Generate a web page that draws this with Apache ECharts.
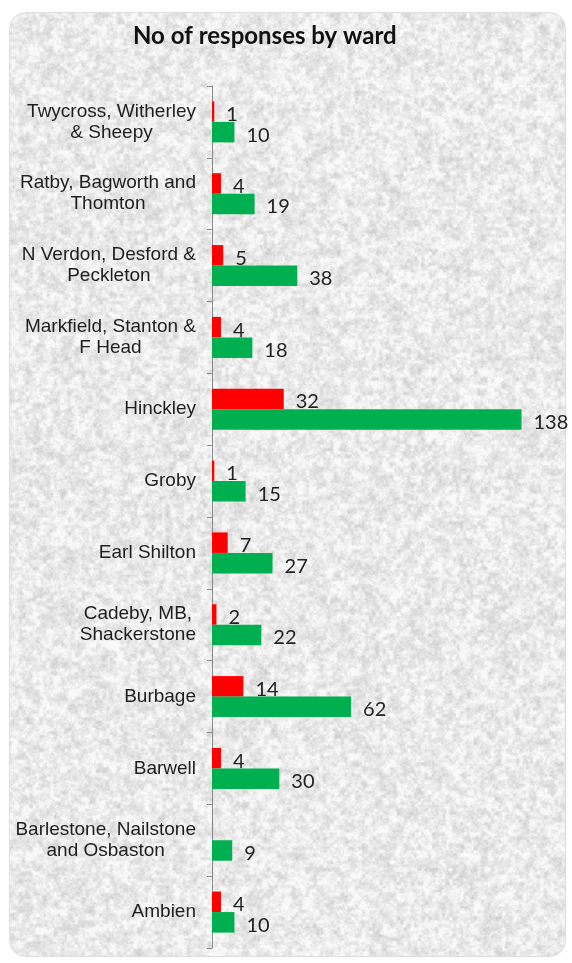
<!DOCTYPE html>
<html>
<head>
<meta charset="utf-8">
<script src="https://cdn.jsdelivr.net/npm/echarts@6/dist/echarts.min.js"></script>
<style>
  html, body { margin: 0; padding: 0; background: #ffffff; }
  #chart { width: 572px; height: 963px; }
</style>
</head>
<body>
<div id="chart"></div>
<script>
// Wards, listed top to bottom
const wards = [
  'Twycross, Witherley\n& Sheepy',
  'Ratby, Bagworth and\nThomton',
  'N Verdon, Desford &\nPeckleton',
  'Markfield, Stanton &\nF Head',
  'Hinckley',
  'Groby',
  'Earl Shilton',
  'Cadeby, MB,\nShackerstone',
  'Burbage',
  'Barwell',
  'Barlestone, Nailstone\nand Osbaston',
  'Ambien'
];
// Red series (upper bar in each ward)
const redValues = [1, 4, 5, 4, 32, 1, 7, 2, 14, 4, null, 4];
// Green series (lower bar in each ward)
const greenValues = [10, 19, 38, 18, 138, 15, 27, 22, 62, 30, 9, 10];

// Granite-like panel fill, built from a deterministic hash-based value noise
function makeGranite(w, h) {
  const c = document.createElement('canvas');
  c.width = w; c.height = h;
  const ctx = c.getContext('2d');
  const img = ctx.createImageData(w, h);
  function hash(x, y) {
    const s = Math.sin(x * 127.1 + y * 311.7) * 43758.5453;
    return s - Math.floor(s);
  }
  function smooth(t) { return t * t * (3 - 2 * t); }
  function noise(x, y) {
    const xi = Math.floor(x), yi = Math.floor(y);
    const xf = smooth(x - xi), yf = smooth(y - yi);
    const a = hash(xi, yi), b = hash(xi + 1, yi);
    const c2 = hash(xi, yi + 1), d = hash(xi + 1, yi + 1);
    return (a + (b - a) * xf) * (1 - yf) + (c2 + (d - c2) * xf) * yf;
  }
  const octaves = [[7, 0.3], [3.5, 0.35], [1.8, 0.23], [0.9, 0.12]];
  for (let y = 0; y < h; y++) {
    for (let x = 0; x < w; x++) {
      let v = 0;
      for (let k = 0; k < octaves.length; k++) {
        const s = octaves[k][0];
        v += noise(x / s + k * 17.3, y / s + k * 31.7) * octaves[k][1];
      }
      let g = 234 + (v - 0.5) * 80;
      if (g < 200) g = 200;
      if (g > 249) g = 249;
      const i = (y * w + x) * 4;
      img.data[i] = g; img.data[i + 1] = g; img.data[i + 2] = g; img.data[i + 3] = 255;
    }
  }
  ctx.putImageData(img, 0, 0);
  return c;
}

const labelFont = '"Liberation Sans", Arial, sans-serif';
const valueFont = 'Lato, "Open Sans", sans-serif';

const chart = echarts.init(document.getElementById('chart'), null, { renderer: 'canvas' });

chart.setOption({
  backgroundColor: '#ffffff',
  animation: false,
  graphic: [{
    type: 'rect',
    z: -10,
    shape: { x: 9.5, y: 12.5, width: 556, height: 944, r: 16 },
    style: {
      fill: { image: makeGranite(572, 963), repeat: 'no-repeat' },
      stroke: '#dedede',
      lineWidth: 1
    }
  }],
  title: {
    text: 'No of responses by ward',
    left: 128,
    top: 19,
    textStyle: {
      fontFamily: valueFont,
      fontSize: 24,
      fontWeight: 'bold',
      color: '#111111'
    }
  },
  grid: { left: 212, top: 86, width: 314, height: 862, containLabel: false },
  xAxis: {
    type: 'value',
    min: 0,
    max: 140,
    show: false,
    splitLine: { show: false }
  },
  yAxis: {
    type: 'category',
    inverse: true,
    data: wards,
    axisLine: { show: true, lineStyle: { color: '#8a8a8a', width: 1 } },
    axisTick: { show: true, length: 5, lineStyle: { color: '#8a8a8a' } },
    axisLabel: {
      margin: 16,
      interval: 0,
      fontFamily: labelFont,
      fontSize: 19,
      color: '#1e1e1e',
      lineHeight: 21,
      formatter: function (value) {
        return value.split('\n').map(function (l) { return '{c|' + l + '}'; }).join('\n');
      },
      rich: {
        c: {
          align: 'center',
          fontFamily: labelFont,
          fontSize: 19,
          lineHeight: 21,
          color: '#1e1e1e'
        }
      }
    }
  },
  series: [
    {
      name: 'Red',
      type: 'bar',
      data: redValues,
      barWidth: 20.5,
      barGap: '0%',
      itemStyle: { color: '#ff0000' },
      label: {
        show: true,
        position: 'right',
        distance: 12,
        offset: [0, 3],
        fontFamily: valueFont,
        fontSize: 20,
        color: '#222222'
      }
    },
    {
      name: 'Green',
      type: 'bar',
      data: greenValues,
      barWidth: 20.5,
      barGap: '0%',
      itemStyle: { color: '#00b050' },
      label: {
        show: true,
        position: 'right',
        distance: 12,
        offset: [0, 3],
        fontFamily: valueFont,
        fontSize: 20,
        color: '#222222'
      }
    }
  ]
});
</script>
</body>
</html>
